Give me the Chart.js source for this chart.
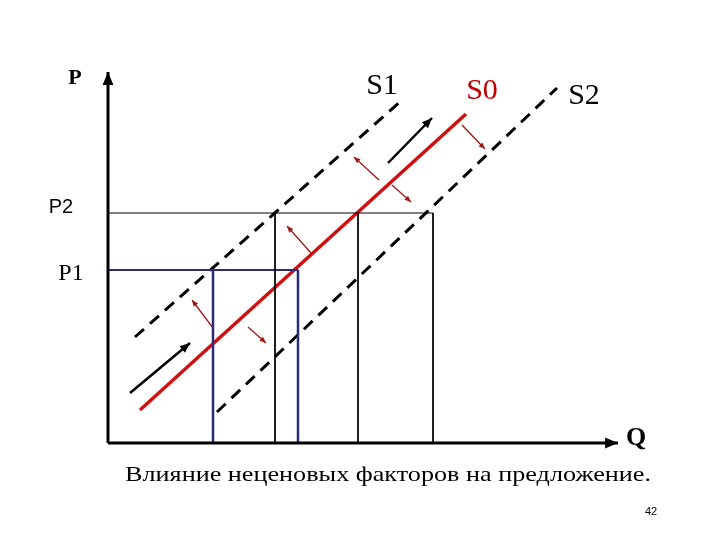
<!DOCTYPE html>
<html><head><meta charset="utf-8">
<script src="https://cdn.jsdelivr.net/npm/chart.js@4"></script>
<style>html,body{margin:0;background:#fff}#w{width:720px;height:540px}</style>
</head><body><div id="w"><canvas id="c"></canvas></div>
<script>
// Diagram coordinates (scale units 0..720 x 0..540, y downward)
const axisY = [[108,443],[108,72]];
const axisX = [[108,443],[618,443]];
const S0 = [[140,410],[466,114]];
const S1 = [[135,337],[402,100]];
const S2 = [[217,412],[557,88]];
const P2line = [[108,213],[433,213]];
const P2verts = [[275,213,443],[358,213,443],[433,213,443]];
const P1line = [[108,270],[298,270]];
const P1verts = [[213,270,443],[298,270,443]];
const blackArrows = [[[130,393],[190,343]],[[388,163],[432,118]]];
const redArrows = [[[462,125],[485,149]],[[379,180],[354,157]],[[392,185],[411,202]],[[311,253],[287,226]],[[213,328],[192,300]],[[248,327],[266,343]]];
const labels = [
 {t:'P',x:75,y:76,c:'#000',f:'bold 22px "Liberation Serif"',sx:1},
 {t:'S1',x:382,y:86,c:'#000',f:'30px "Liberation Serif"',sx:1},
 {t:'S0',x:482,y:91,c:'#c00000',f:'30px "Liberation Serif"',sx:1},
 {t:'S2',x:584,y:96,c:'#000',f:'30px "Liberation Serif"',sx:1},
 {t:'P2',x:61,y:205,c:'#000',f:'20px "Liberation Sans"',sx:1},
 {t:'P1',x:71,y:272,c:'#000',f:'24px "Liberation Serif"',sx:1},
 {t:'Q',x:636,y:437,c:'#000',f:'bold 26px "Liberation Serif"',sx:1},
 {t:'Влияние неценовых факторов на предложение.',x:388,y:473,c:'#000',f:'22px "Liberation Serif"',sx:1.19},
 {t:'42',x:651,y:507,c:'#000',f:'11px "Liberation Sans"',sx:1}
];
const pts = a => a.map(p=>({x:p[0],y:p[1]}));
const ds = [];
function add(data,color,w,dash,arrow){ds.push({data:pts(data),borderColor:color,borderWidth:w,borderDash:dash||[],pointRadius:0,showLine:true,fill:false,arrow:arrow||null});}
add(axisY,'#000',3,null,{size:14});
add(axisX,'#000',3,null,{size:14});
add(P2line,'#000',1);
P2verts.forEach(v=>add([[v[0],v[1]],[v[0],v[2]]],'#000',1));
add(P1line,'#2b2b7a',2);
P1verts.forEach(v=>add([[v[0],v[1]],[v[0],v[2]]],'#2b2b7a',2.5));
add(S1,'#000',3,[12,8]);
add(S2,'#000',3,[12,8]);
add(S0,'#d01010',3.5);
blackArrows.forEach(a=>add(a,'#000',2.5,null,{size:11}));
redArrows.forEach(a=>add(a,'#a01818',1.3,null,{size:7}));
const deco={id:'deco',afterDatasetsDraw(ch){
 const ctx=ch.ctx,xs=ch.scales.x,ys=ch.scales.y;
 ch.data.datasets.forEach(d=>{ if(!d.arrow)return;
  const a=d.data[0],b=d.data[d.data.length-1];
  const x1=xs.getPixelForValue(a.x),y1=ys.getPixelForValue(a.y),x2=xs.getPixelForValue(b.x),y2=ys.getPixelForValue(b.y);
  const ang=Math.atan2(y2-y1,x2-x1),s=d.arrow.size;
  ctx.save();ctx.fillStyle=d.borderColor;ctx.beginPath();ctx.moveTo(x2,y2);
  ctx.lineTo(x2-s*Math.cos(ang-0.4),y2-s*Math.sin(ang-0.4));
  ctx.lineTo(x2-s*Math.cos(ang+0.4),y2-s*Math.sin(ang+0.4));ctx.closePath();ctx.fill();ctx.restore();});
 labels.forEach(l=>{ctx.save();ctx.textAlign='center';ctx.textBaseline='alphabetic';ctx.font=l.f;ctx.fillStyle=l.c;
  ctx.translate(xs.getPixelForValue(l.x),ys.getPixelForValue(l.y)+8);ctx.scale(l.sx,1);ctx.fillText(l.t,0,0);ctx.restore();});
}};
new Chart(document.getElementById('c'),{type:'scatter',data:{datasets:ds},plugins:[deco],
 options:{responsive:true,maintainAspectRatio:false,animation:false,layout:{padding:0},
  plugins:{legend:{display:false},tooltip:{enabled:false}},
  scales:{x:{type:'linear',min:0,max:720,display:false},y:{type:'linear',min:0,max:540,reverse:true,display:false}}}});
</script></body></html>
